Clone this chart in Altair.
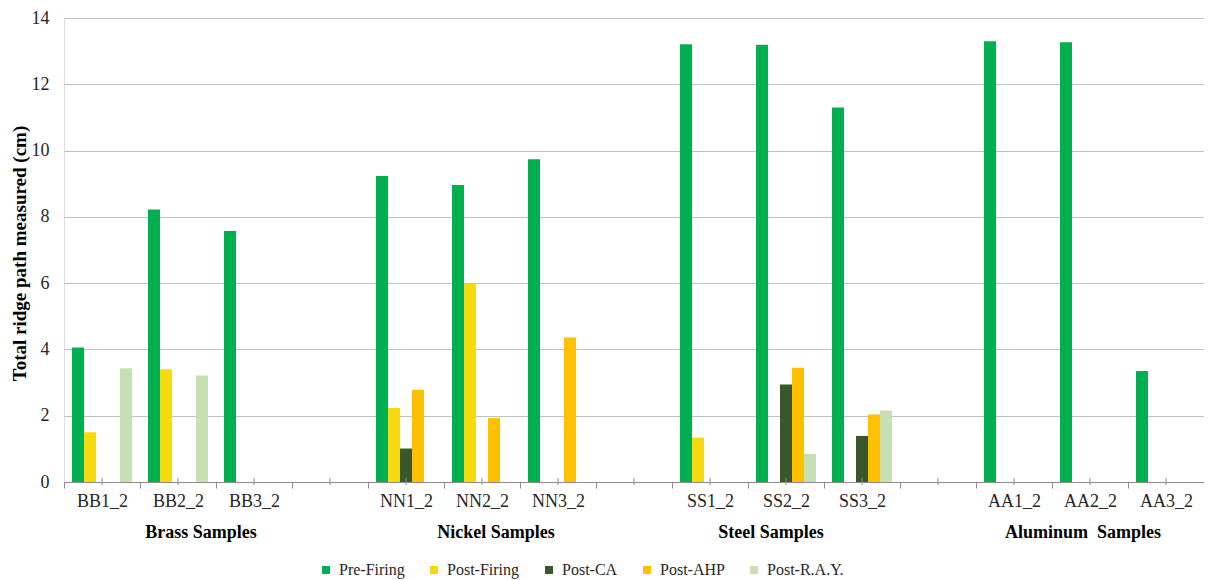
import altair as alt
import pandas as pd

# ---- data ----
categories = ["BB1_2", "BB2_2", "BB3_2", "gap1",
              "NN1_2", "NN2_2", "NN3_2", "gap2",
              "SS1_2", "SS2_2", "SS3_2", "gap3",
              "AA1_2", "AA2_2", "AA3_2"]
series = ["Pre-Firing", "Post-Firing", "Post-CA", "Post-AHP", "Post-R.A.Y."]

pre_firing = [4.06, 8.22, 7.57, None, 9.23, 8.96, 9.74, None, 13.21, 13.19, 11.30, None, 13.30, 13.27, 3.35]
post_firing = [1.50, 3.40, None, None, 2.23, 5.98, None, None, 1.34, None, None, None, None, None, None]
post_ca = [None, None, None, None, 1.01, None, None, None, None, 2.94, 1.39, None, None, None, None]
post_ahp = [None, None, None, None, 2.78, 1.93, 4.36, None, None, 3.45, 2.04, None, None, None, None]
post_ray = [3.43, 3.21, None, None, None, None, None, None, None, 0.85, 2.16, None, None, None, None]

group_labels = ["Brass Samples", "Nickel Samples", "Steel Samples", "Aluminum\u00a0 Samples"]
group_anchor = ["BB2_2", "NN2_2", "SS2_2", "AA2_2"]

y_ticks = [0, 2, 4, 6, 8, 10, 12, 14]

# ---- styles ----
colors = ["#00B050", "#F6D90F", "#38572A", "#FFC000", "#C6E0B4"]
group_dx = [23, 14, -15, -7]
FONT = "Liberation Serif"
TXT = "#262626"
W, H = 1140, 464

rows = []
for s, vals in zip(series, [pre_firing, post_firing, post_ca, post_ahp, post_ray]):
    for c, v in zip(categories, vals):
        if v is not None:
            rows.append({"cat": c, "series": s, "value": v})
df = pd.DataFrame(rows)

xscale = alt.Scale(domain=categories, paddingInner=0, paddingOuter=0)

x_axis = alt.Axis(
    title=None, labelAngle=0, tickBand="extent", tickSize=6,
    tickColor="#8C8C8C", domainColor="#8C8C8C", tickWidth=1, domainWidth=1,
    labelFont=FONT, labelFontSize=18, labelColor=TXT, labelPadding=4,
    labelExpr="indexof(datum.label, 'gap') == 0 ? '' : datum.label",
    grid=False,
)

bars = alt.Chart(df).mark_bar().encode(
    x=alt.X("cat:N", scale=xscale, axis=x_axis, sort=categories),
    xOffset=alt.XOffset("series:N", sort=series,
                        scale=alt.Scale(domain=series, paddingInner=0, paddingOuter=0.667)),
    y=alt.Y("value:Q", scale=alt.Scale(domain=[0, 14], nice=False),
            axis=alt.Axis(values=y_ticks, grid=True, gridColor="#C0C0C0", gridWidth=1,
                          domain=False, ticks=False, tickSize=0, labelPadding=15,
                          labelFont=FONT, labelFontSize=18, labelColor=TXT,
                          title="Total ridge path measured (cm)", titleFont=FONT,
                          titleFontSize=19, titleFontWeight="bold", titleColor="#000000",
                          titlePadding=2, titleY=235)),
    color=alt.Color("series:N", sort=series,
                    scale=alt.Scale(domain=series, range=colors),
                    legend=alt.Legend(orient="none", legendX=254, legendY=544,
                                      direction="horizontal", columns=5, title=None,
                                      symbolType="square", symbolSize=64, symbolStrokeWidth=0,
                                      labelFont=FONT, labelFontSize=16, labelColor=TXT,
                                      columnPadding=21, labelOffset=5, padding=0)),
)

tick_df = pd.DataFrame({"cat": categories})
center_ticks = alt.Chart(tick_df).mark_rule(color="#8C8C8C", strokeWidth=1).encode(
    x=alt.X("cat:N", scale=xscale, sort=categories),
    y=alt.value(H - 4),
    y2=alt.value(H + 3),
)

layers = [bars, center_ticks]
for lab, anc, dx in zip(group_labels, group_anchor, group_dx):
    gdf = pd.DataFrame({"label": [lab], "anchor": [anc]})
    layers.append(
        alt.Chart(gdf).mark_text(font=FONT, fontSize=18, fontWeight="bold",
                                 color="#000000", baseline="middle", align="center", dx=dx)
        .encode(x=alt.X("anchor:N", scale=xscale, sort=categories),
                y=alt.value(H + 51), text="label:N")
    )

chart = alt.layer(*layers).properties(
    width=W, height=H,
    padding={"left": 56, "top": 10, "right": 0, "bottom": 98},
    autosize=alt.AutoSizeParams(type="none"),
).configure_view(stroke=None).configure(background="white")

chart.save("out.html", embed_options={"renderer": "svg", "actions": False})
